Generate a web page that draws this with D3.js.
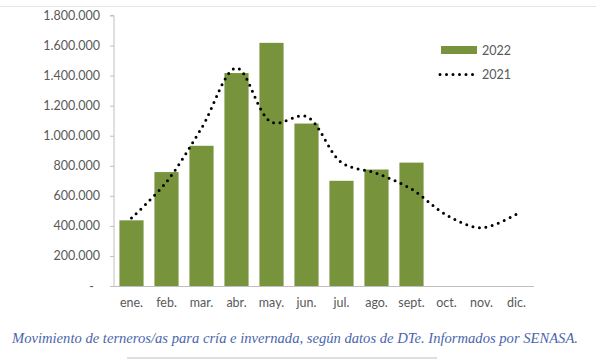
<!DOCTYPE html>
<html><head><meta charset="utf-8">
<script src="https://cdn.jsdelivr.net/npm/d3@7"></script>
<style>body{margin:0;background:#fff}svg{display:block}</style>
</head><body><svg id="c" width="596" height="359"></svg>
<script>
const months = ["ene.","feb.","mar.","abr.","may.","jun.","jul.","ago.","sept.","oct.","nov.","dic."];
const values2022 = [437000,758000,933000,1417000,1618000,1081000,700000,775000,821000];
const values2021 = [452000,693000,1050000,1450000,1090000,1128000,822000,750000,645000,472000,388000,478000];
const yTicks = [0,200000,400000,600000,800000,1000000,1200000,1400000,1600000,1800000];
const seriesNames = ["2022","2021"];
const caption = "Movimiento de terneros/as para cría e invernada, según datos de DTe. Informados por SENASA.";

(function(){
const svg = d3.select("#c");
const mLeft = 114, mRight = 534, mTop = 15.5, mBottom = 286;
const x = d3.scaleBand().domain(months).range([mLeft,mRight]).paddingInner(0.31).paddingOuter(0.155);
const y = d3.scaleLinear().domain([0,1800000]).range([mBottom, mTop]);
const loc = d3.formatLocale({decimal:",",thousands:".",grouping:[3],currency:["",""]});
const fmt = v => v === 0 ? "-" : loc.format(",")(v);
const font = "Lato, 'Open Sans', sans-serif";
const txt = "#595959";

svg.append("line").attr("x1",0).attr("x2",596).attr("y1",6.5).attr("y2",6.5).attr("stroke","#e6e6e6");

svg.append("g").selectAll("rect").data(values2022).join("rect")
  .attr("x",(d,i)=>x(months[i])).attr("width",x.bandwidth())
  .attr("y",d=>y(d)).attr("height",d=>mBottom-y(d)).attr("fill","#77933c");

const ya = svg.append("g").attr("transform",`translate(${mLeft},0)`)
  .call(d3.axisLeft(y).tickValues(yTicks).tickFormat(fmt).tickSize(4).tickPadding(10));
ya.select(".domain").attr("stroke","#bfbfbf").attr("d",`M-4,${mTop}H0V${mBottom}`);
ya.selectAll(".tick line").attr("stroke","#bfbfbf");
ya.selectAll(".tick text").attr("fill",txt).attr("font-family",font).attr("font-size",12.5)
  .attr("dx",d=>d===0?-6:0);

const xa = svg.append("g").attr("transform",`translate(0,${mBottom})`)
  .call(d3.axisBottom(x).tickSize(0).tickPadding(12));
xa.select(".domain").attr("stroke","#bfbfbf").attr("d",`M${mLeft-4},0.5H${mRight}`);
xa.selectAll(".tick text").attr("fill",txt).attr("font-family",font).attr("font-size",12.5);

const line = d3.line().x((d,i)=>x(months[i])+x.bandwidth()/2).y(d=>y(d)).curve(d3.curveCatmullRom.alpha(0.5));
svg.append("path").datum(values2021).attr("d",line).attr("fill","none")
  .attr("stroke","#000").attr("stroke-width",3).attr("stroke-linecap","round").attr("stroke-dasharray","0 6.5");

const lg = svg.append("g");
lg.append("rect").attr("x",441).attr("y",46).attr("width",36).attr("height",8).attr("fill","#77933c");
lg.append("text").attr("x",482).attr("y",55).text(seriesNames[0]).attr("fill",txt).attr("font-family",font).attr("font-size",12.5);
lg.append("line").attr("x1",440).attr("x2",477).attr("y1",74.5).attr("y2",74.5)
  .attr("stroke","#000").attr("stroke-width",3).attr("stroke-linecap","round").attr("stroke-dasharray","0 6.5");
lg.append("text").attr("x",482).attr("y",79).text(seriesNames[1]).attr("fill",txt).attr("font-family",font).attr("font-size",12.5);

svg.append("text").attr("x",12).attr("y",343).text(caption)
  .attr("fill","#4a66ac").attr("font-family","'Liberation Serif', serif").attr("font-style","italic")
  .attr("font-size",14).attr("textLength",566).attr("lengthAdjust","spacingAndGlyphs");
svg.append("line").attr("x1",127).attr("x2",437).attr("y1",358).attr("y2",358).attr("stroke","#bfbfbf");
})();
</script></body></html>
